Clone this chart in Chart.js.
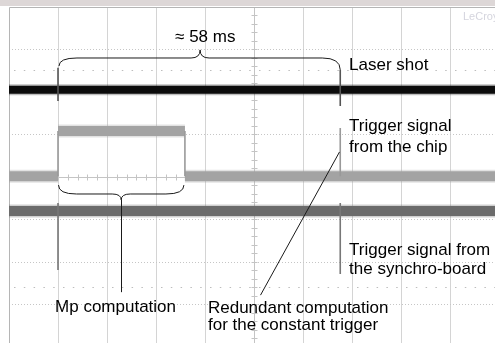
<!DOCTYPE html>
<html>
<head>
<meta charset="utf-8">
<title>Oscilloscope capture</title>
<script src="https://cdn.jsdelivr.net/npm/chart.js@4.4.1/dist/chart.umd.min.js"></script>
<style>
    html, body { margin: 0; padding: 0; background: #fff; overflow: hidden; }
    #scope { display: block; }
</style>
</head>
<body>
<canvas id="scope" width="495" height="343"></canvas>
<script>
// Time in ms (10 ms per division), amplitude in screen divisions (0 = bottom, 8 = top)
const sweepMs = [0, 99.2];
const shotMs = [10, 67.6];            // laser shots / trigger instants
const chipEdgesMs = [10, 35.9];       // chip trigger goes high, then back low

const laserLevel = 6.05;
const chipLowLevel = 4.02;
const chipHighLevel = 5.08;
const synchroLevel = 3.2;

const laserSpikeTop = [6.57, 6.52];
const laserSpikeBottom = [5.79, 5.67];
const chipSpikeTop = [5.08, 5.15];
const synchroSpikeTop = [3.39, 3.39];
const synchroSpikeBottom = [1.81, 1.72];

// Annotation texts: [text, x (ms), baseline (div)]
const labels = [
    ["\u2248 58 ms", 33.9, 7.18],
    ["Laser shot", 69.4, 6.52],
    ["Trigger signal", 69.4, 5.08],
    ["from the chip", 69.4, 4.59],
    ["Trigger signal from", 69.4, 2.17],
    ["the synchro-board", 69.4, 1.72],
    ["Mp computation", 9.4, 0.82],
    ["Redundant computation", 40.6, 0.8],
    ["for the constant trigger", 40.6, 0.4]
];

// Braces: [x1, y1, x2, y2, lineY, tipX, tipY]
const braces = [
    [10.2, 6.61, 67.6, 6.52, 6.8, 39.0, 6.99],
    [10.1, 3.81, 35.7, 3.81, 3.6, 22.9, 3.46]
];

// Pointer lines: [xA, yA, xB, yB]
const pointers = [
    [22.9, 3.46, 22.9, 1.29],
    [67.4, 4.59, 51.2, 1.22]
];

function flat(level) {
    return sweepMs.map(t => ({ x: t, y: level }));
}

function band(data, color, halo, width) {
    return [
        { data: data, borderColor: color, borderWidth: width, order: 2 },
        { data: data, borderColor: halo, borderWidth: width + 3, order: 3 }
    ];
}

function spike(t, top, bottom, color) {
    return {
        data: [{ x: t, y: top }, { x: t, y: bottom }],
        borderColor: color,
        borderWidth: 1.6,
        order: 1
    };
}

const datasets = [];

// Laser shot (black)
datasets.push(...band(flat(laserLevel), "#0c0c0c", "rgba(0,0,0,0.25)", 8));
shotMs.forEach((t, i) => datasets.push(spike(t, laserSpikeTop[i], laserSpikeBottom[i], "#555")));

// Trigger signal from the chip (light grey)
const chipLeft = [{ x: sweepMs[0], y: chipLowLevel }, { x: chipEdgesMs[0], y: chipLowLevel }];
const chipHigh = [{ x: chipEdgesMs[0], y: chipHighLevel }, { x: chipEdgesMs[1], y: chipHighLevel }];
const chipRight = [{ x: chipEdgesMs[1], y: chipLowLevel }, { x: sweepMs[1], y: chipLowLevel }];
[chipLeft, chipHigh, chipRight].forEach(seg =>
    datasets.push(...band(seg, "#a3a3a3", "rgba(160,160,160,0.3)", 10)));
chipEdgesMs.forEach(t => datasets.push(spike(t, chipHighLevel, chipLowLevel, "#9a9a9a")));
datasets.push(spike(shotMs[1], chipSpikeTop[1], chipLowLevel, "#999"));

// Trigger signal from the synchro-board (dark grey)
datasets.push(...band(flat(synchroLevel), "#6b6b6b", "rgba(100,100,100,0.3)", 10));
shotMs.forEach((t, i) => datasets.push(spike(t, synchroSpikeTop[i], synchroSpikeBottom[i], "#777")));

const scopeGrid = {
    id: "scopeGrid",
    beforeDatasetsDraw(chart) {
        const ctx = chart.ctx;
        const a = chart.chartArea;
        const xs = chart.scales.x;
        const ys = chart.scales.y;

        ctx.save();
        ctx.fillStyle = "#ddd7d7";
        ctx.fillRect(0, 0, chart.width, 6);

        ctx.lineWidth = 1;
        // vertical divisions
        ctx.strokeStyle = "#d4d4d4";
        for (let t = 10; t < 100; t += 10) {
            const px = Math.round(xs.getPixelForValue(t)) + 0.5;
            ctx.beginPath();
            ctx.moveTo(px, a.top);
            ctx.lineTo(px, a.bottom);
            ctx.stroke();
        }
        // horizontal divisions (dotted)
        ctx.strokeStyle = "#c6c6c6";
        ctx.setLineDash([1, 2]);
        for (let v = 1; v < 8; v++) {
            const py = Math.round(ys.getPixelForValue(v)) + 0.5;
            ctx.beginPath();
            ctx.moveTo(a.left, py);
            ctx.lineTo(a.right, py);
            ctx.stroke();
        }
        // sparse marker rows
        ctx.strokeStyle = "#bdbdbd";
        ctx.setLineDash([1.5, 8.3]);
        [6.52, 1.4].forEach(v => {
            const py = Math.round(ys.getPixelForValue(v)) + 0.5;
            ctx.beginPath();
            ctx.moveTo(a.left + 5, py);
            ctx.lineTo(a.right, py);
            ctx.stroke();
        });
        ctx.setLineDash([]);

        // centre axes with minor ticks
        ctx.strokeStyle = "#c4c4c4";
        const cy = Math.round(ys.getPixelForValue(4)) + 0.5;
        const cx = Math.round(xs.getPixelForValue(50)) + 0.5;
        ctx.beginPath();
        ctx.moveTo(a.left, cy);
        ctx.lineTo(a.right, cy);
        ctx.moveTo(cx, a.top);
        ctx.lineTo(cx, a.bottom);
        for (let t = 2; t < 100; t += 2) {
            const px = Math.round(xs.getPixelForValue(t)) + 0.5;
            ctx.moveTo(px, cy - 3);
            ctx.lineTo(px, cy + 3);
        }
        for (let v = 0.2; v < 8; v += 0.2) {
            const py = Math.round(ys.getPixelForValue(v)) + 0.5;
            ctx.moveTo(cx - 3, py);
            ctx.lineTo(cx + 3, py);
        }
        ctx.stroke();

        // frame
        ctx.strokeStyle = "#b5b5b5";
        ctx.beginPath();
        ctx.moveTo(a.left + 0.5, a.bottom);
        ctx.lineTo(a.left + 0.5, a.top + 0.5);
        ctx.lineTo(a.right, a.top + 0.5);
        ctx.stroke();
        ctx.restore();
    }
};

const scopeNotes = {
    id: "scopeNotes",
    afterDatasetsDraw(chart) {
        const ctx = chart.ctx;
        const X = v => chart.scales.x.getPixelForValue(v);
        const Y = v => chart.scales.y.getPixelForValue(v);

        ctx.save();
        ctx.strokeStyle = "#1a1a1a";
        ctx.lineWidth = 1;

        braces.forEach(([x1, y1, x2, y2, ly, tx, ty]) => {
            const r = 9;
            ctx.beginPath();
            ctx.moveTo(X(x1), Y(y1));
            ctx.quadraticCurveTo(X(x1), Y(ly), X(x1) + r * 2, Y(ly));
            ctx.lineTo(X(tx) - r, Y(ly));
            ctx.quadraticCurveTo(X(tx), Y(ly), X(tx), Y(ty));
            ctx.quadraticCurveTo(X(tx), Y(ly), X(tx) + r, Y(ly));
            ctx.lineTo(X(x2) - r * 2, Y(ly));
            ctx.quadraticCurveTo(X(x2), Y(ly), X(x2), Y(y2));
            ctx.stroke();
        });

        pointers.forEach(([xa, ya, xb, yb]) => {
            ctx.beginPath();
            ctx.moveTo(Math.round(X(xa)) + 0.5, Y(ya));
            ctx.lineTo(Math.round(X(xb)) + 0.5, Y(yb));
            ctx.stroke();
        });

        ctx.fillStyle = "#000";
        ctx.font = "17px 'Liberation Sans', Arial, sans-serif";
        ctx.textBaseline = "alphabetic";
        labels.forEach(([text, x, y]) => ctx.fillText(text, X(x), Y(y)));

        ctx.fillStyle = "#d5d5de";
        ctx.font = "11px 'Liberation Sans', Arial, sans-serif";
        ctx.fillText("LeCroy", X(92.65), Y(7.69));
        ctx.restore();
    }
};

new Chart(document.getElementById("scope"), {
    type: "line",
    data: { datasets: datasets },
    options: {
        responsive: false,
        animation: false,
        devicePixelRatio: 1,
        layout: { padding: { left: 9, top: 7, right: 0, bottom: 0 } },
        datasets: {
            line: {
                pointRadius: 0,
                borderCapStyle: "butt",
                tension: 0,
                fill: false
            }
        },
        plugins: {
            legend: { display: false },
            tooltip: { enabled: false }
        },
        scales: {
            x: { type: "linear", min: 0, max: 99.18, display: false },
            y: { type: "linear", min: 0.094, max: 8, display: false }
        }
    },
    plugins: [scopeGrid, scopeNotes]
});
</script>
</body>
</html>
